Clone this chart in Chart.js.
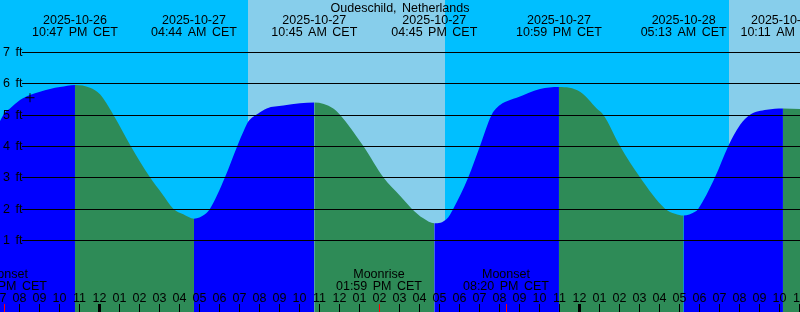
<!DOCTYPE html>
<html>
<head>
<meta charset="utf-8">
<title>Oudeschild tides</title>
<script src="https://cdn.jsdelivr.net/npm/chart.js@4.4.0/dist/chart.umd.min.js"></script>
<style>
    html, body { margin: 0; padding: 0; background: #00bfff; overflow: hidden; }
    #wrap { width: 800px; height: 312px; }
</style>
</head>
<body>
<div id="wrap"><canvas id="tideChart" width="800" height="312"></canvas></div>
<script>
// Station
const stationName = 'Oudeschild, Netherlands';

// Tide curve: hours from 2025-10-27 00:00 CET, height in feet
const tideHours = [
    -4.965, -4.715, -4.465, -3.965, -3.465, -2.965, -2.465, -1.965, -1.217,
    -0.465, 0.035, 0.70, 1.57, 2.535, 3.12, 3.70, 4.20, 4.733,
    5.285, 5.535, 6.285, 6.90, 7.235, 7.45, 7.95, 8.37, 9.20, 10.035, 10.75,
    11.70, 12.035, 13.20, 14.20, 15.035, 15.62, 16.20, 16.75,
    17.37, 17.70, 18.45, 19.035, 19.62, 20.035, 20.535, 20.87, 22.035, 22.983,
    24.035, 24.87, 25.20, 26.035, 27.035, 28.285, 28.785, 29.217,
    29.785, 29.95, 30.785, 31.45, 32.035, 32.535, 33.37, 34.183, 35.035
];
const tideFeet = [
    4.80, 5.07, 5.20, 5.47, 5.63, 5.73, 5.82, 5.88, 5.95,
    5.86, 5.65, 5.00, 4.00, 3.00, 2.49, 2.00, 1.82, 1.68,
    1.82, 2.00, 3.00, 4.00, 4.50, 4.78, 5.04, 5.20, 5.29, 5.36, 5.39,
    5.20, 5.00, 4.00, 3.00, 2.41, 2.00, 1.69, 1.53,
    1.67, 2.00, 3.00, 4.00, 5.00, 5.31, 5.47, 5.54, 5.82, 5.88,
    5.73, 5.20, 5.00, 4.00, 3.00, 2.00, 1.84, 1.78,
    1.90, 2.00, 3.00, 4.00, 4.67, 5.00, 5.16, 5.20, 5.18
];

// High / low tide events
const eventHours = [-1.217, 4.733, 10.75, 16.75, 22.983, 29.217, 34.183];
const eventDates = ['2025-10-26', '2025-10-27', '2025-10-27', '2025-10-27', '2025-10-27', '2025-10-28', '2025-10-28'];
const eventTimes = ['10:47 PM CET', '04:44 AM CET', '10:45 AM CET', '04:45 PM CET', '10:59 PM CET', '05:13 AM CET', '10:11 AM CET'];

// Moon events
const moonHours = [-4.767, 13.983, 20.333];
const moonNames = ['Moonset', 'Moonrise', 'Moonset'];
const moonTimes = ['07:14 PM CET', '01:59 PM CET', '08:20 PM CET'];

// Daylight
const sunriseHours = [7.45, 31.48];
const sunsetHours = [17.28, 41.25];

// Current-time mark
const markHour = -3.465;
const markFeet = 5.54;

// Axis ticks
const heightTicks = [1, 2, 3, 4, 5, 6, 7];
const firstHour = -5;
const hourLabels = [
    '07', '08', '09', '10', '11',
    '12', '01', '02', '03', '04', '05', '06', '07', '08', '09', '10', '11',
    '12', '01', '02', '03', '04', '05', '06', '07', '08', '09', '10', '11',
    '12', '01', '02', '03', '04', '05', '06', '07', '08', '09', '10', '11'
];

const FONT = '12.5px "Liberation Sans", Arial, sans-serif';
const NIGHT = '#00bfff';
const DAY = '#87ceeb';
const RISING = '#0000ff';
const FALLING = '#2e8b57';

// Day / night background
const skyPlugin = {
    id: 'sky',
    beforeDatasetsDraw(chart) {
        const { ctx, chartArea: a, scales: { x } } = chart;
        ctx.save();
        ctx.fillStyle = NIGHT;
        ctx.fillRect(a.left, a.top, a.width, a.height);
        ctx.fillStyle = DAY;
        sunriseHours.forEach((rise, i) => {
            const x0 = Math.round(x.getPixelForValue(rise));
            const x1 = Math.round(x.getPixelForValue(sunsetHours[i]));
            ctx.fillRect(x0, a.top, x1 - x0, a.height);
        });
        ctx.restore();
    }
};

// Grid, labels and time ticks
const overlayPlugin = {
    id: 'overlay',
    afterDatasetsDraw(chart) {
        const { ctx, chartArea: a, scales: { x, y } } = chart;
        ctx.save();
        ctx.font = FONT;
        ctx.wordSpacing = '2px';
        ctx.fillStyle = '#000';
        ctx.strokeStyle = '#000';
        ctx.lineWidth = 1;

        // height grid
        heightTicks.forEach(h => {
            const py = Math.round(y.getPixelForValue(h)) + 0.5;
            ctx.beginPath();
            ctx.moveTo(22, py);
            ctx.lineTo(a.right, py);
            ctx.stroke();
            ctx.textAlign = 'left';
            ctx.textBaseline = 'middle';
            ctx.fillText(h + ' ft', 3, py + 0.5);
        });

        // title
        ctx.textAlign = 'center';
        ctx.textBaseline = 'alphabetic';
        ctx.fillText(stationName, (a.left + a.right) / 2, 12);

        // tide events
        eventHours.forEach((t, i) => {
            const px = x.getPixelForValue(t);
            ctx.fillText(eventDates[i], px, 24);
            ctx.fillText(eventTimes[i], px, 36);
        });

        // moon events
        moonHours.forEach((t, i) => {
            const px = x.getPixelForValue(t);
            ctx.fillText(moonNames[i], px, 278);
            ctx.fillText(moonTimes[i], px, 290);
        });

        // hour labels and ticks
        hourLabels.forEach((lab, i) => {
            const t = firstHour + i;
            const px = Math.round(x.getPixelForValue(t));
            ctx.fillText(lab, px + 0.5, 302);
            if (t % 24 === 0) {
                ctx.fillRect(px - 1, 304, 3, 8);
            } else {
                ctx.fillRect(px, 304, 1, 8);
            }
        });

        ctx.fillStyle = '#ff0000';
        moonHours.forEach(t => {
            const px = Math.round(x.getPixelForValue(t));
            ctx.fillRect(px, 304, 1, 8);
        });
        ctx.restore();
    }
};

const ctx = document.getElementById('tideChart').getContext('2d');
new Chart(ctx, {
    type: 'line',
    data: {
        datasets: [
            {
                label: 'Tide',
                order: 1,
                data: tideHours.map((t, i) => ({ x: t, y: tideFeet[i] })),
                fill: 'start',
                backgroundColor: RISING,
                borderWidth: 0,
                borderColor: 'rgba(0,0,0,0)',
                pointRadius: 0,
                cubicInterpolationMode: 'monotone',
                segment: {
                    backgroundColor: c => c.p1.parsed.y < c.p0.parsed.y ? FALLING : RISING
                }
            },
            {
                label: 'Now',
                order: 0,
                data: [{ x: markHour, y: markFeet }],
                showLine: false,
                pointStyle: 'cross',
                pointRadius: 4.5,
                borderColor: '#000',
                borderWidth: 1
            }
        ]
    },
    options: {
        responsive: false,
        animation: false,
        events: [],
        layout: { padding: 0, autoPadding: false },
        plugins: {
            legend: { display: false },
            tooltip: { enabled: false }
        },
        scales: {
            x: { type: 'linear', min: -4.965, max: 35.035, display: false },
            y: { type: 'linear', min: -1.299, max: 8.659, display: false }
        }
    },
    plugins: [skyPlugin, overlayPlugin]
});
</script>
</body>
</html>
